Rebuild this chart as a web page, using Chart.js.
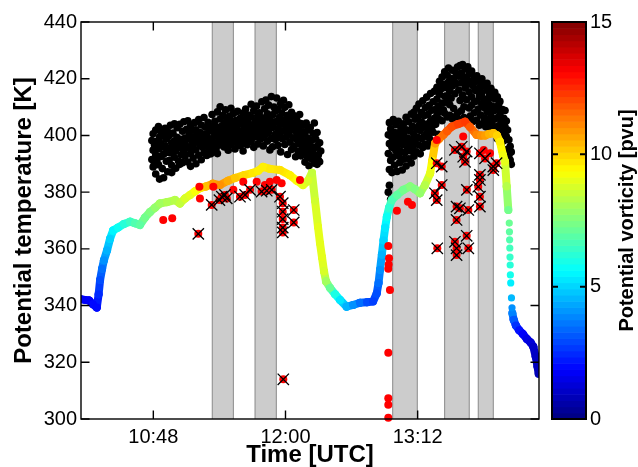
<!DOCTYPE html>
<html><head><meta charset="utf-8">
<style>html,body{margin:0;padding:0;background:#fff;overflow:hidden}#wrap{width:638px;height:467px;position:relative}</style>
<script src="https://cdn.jsdelivr.net/npm/chart.js@4.4.1/dist/chart.umd.min.js"></script>
</head><body><div id="wrap"><canvas id="c"></canvas></div>
<script>
// ---- axis / tick data (time in minutes of day, UTC) ----
const xMin = 608.6, xMax = 858.1;
const xTickValues = [648, 720, 792];
const xTickLabels = ['10:48', '12:00', '13:12'];
const yTickValues = [300, 320, 340, 360, 380, 400, 420, 440];
const pvTickValues = [0, 5, 10, 15];

// ---- shaded intervals ----
const bandStart = [680.1, 703.4, 778.4, 806.7, 825.0];
const bandEnd   = [691.6, 715.0, 791.8, 820.1, 833.2];

// ---- PV-coloured potential temperature trace ----
const traceTime = [608.6,610.8,613.0,615.1,617.2,618.2,619.0,620.1,621.1,622.8,624.4,626.1,628.8,632.0,635.3,638.0,640.7,643.4,646.2,648.9,651.6,655.5,659.8,662.5,665.3,668.0,670.7,673.4,676.7,680.5,684.3,688.7,692.5,697.4,702.3,705.0,707.8,711.6,717.0,722.4,726.2,729.5,732.3,734.4,736.1,737.7,738.8,739.9,741.0,742.1,744.3,747.0,749.7,753.3,756.8,760.6,764.4,767.7,769.7,770.7,771.5,772.5,773.4,774.3,775.2,776.4,777.9,780.8,784.2,787.9,790.6,793.3,796.0,798.8,799.9,801.5,803.7,806.0,808.0,810.5,814.0,817.8,820.5,824.1,826.5,828.7,830.8,833.2,835.2,836.8,838.5,839.6,840.5,841.4];
const traceTheta = [342.2,342.0,341.8,340.5,339.3,344,349,353,356,359.5,363.5,366.5,367.5,368.8,369.6,369.0,368.4,371,373,374.5,376,376.5,377.2,376,377.8,379,380.3,381.4,382,383,382.5,384,385,386,386.8,387.5,388.9,388.2,387.8,386,384,382.5,384,386.8,377,367.8,362,357,352,348.5,346.2,344,342,339.6,340.2,341,341.2,341.4,344.3,348,352.6,358,363,367.5,371.3,374.5,377.2,379,380.8,382,381,379.6,382.5,386.6,391,397.2,398.8,400.2,401.5,403.1,404,404.8,403,400.2,400,400,400.5,400.8,400,397.8,393,390.7,382,373.7];
const tracePV = [1.8,1.8,1.8,2.0,2.0,2.5,3.0,3.5,4.0,4.5,5.0,5.5,5.8,6.2,6.5,6.8,7.0,7.3,7.5,7.8,8.0,8.2,8.3,8.5,8.8,9.0,9.3,9.6,10.3,10.8,11.0,10.6,10.2,9.9,9.7,9.6,9.6,9.7,9.8,9.6,9.3,9.0,8.8,8.5,8.7,9.0,9.0,9.0,8.8,8.0,7.2,6.0,5.3,4.5,4.0,3.5,3.0,2.8,3.0,3.5,4.0,4.5,5.0,5.3,5.8,6.3,6.7,7.0,7.3,7.6,7.5,7.8,8.3,9.0,9.5,10.8,11.2,11.5,11.8,12.0,12.2,12.3,11.8,11.2,11.0,10.8,10.5,10.3,10.0,9.6,9.2,9.0,8.3,7.3];

// sparse descent samples
const descentTime  = [841.9,842.0,842.1,842.2,842.3,842.4,842.5,842.7,843.1,843.4];
const descentTheta = [369.1,366.0,363.2,360.3,357.1,354.3,350.8,348.0,342.7,339.2];
const descentPV    = [7.2,7.0,6.8,6.6,6.4,6.2,5.9,5.4,4.6,4.0];

// final tail
const tailTime  = [843.6,844.3,845.5,847.3,849.3,851.5,853.5,855.0,856.3,857.3,857.9];
const tailTheta = [337.3,335.0,333.0,331.3,330.0,328.2,327.0,325.5,322.0,318.5,316.0];
const tailPV    = [3.8,3.2,2.6,2.1,1.8,1.5,1.3,1.1,1.0,0.9,0.8];

// ---- black samples: [time, theta, theta, ...] ----
const blackCloudA = [
[647.2,391.5,398.2],[647.9,394.8,400.6,388.9],[648.6,396.7,390.2],[649.3,393.1,401.9,386.4],[650.1,397.9,391.8],
[650.8,395.2,403.1,389.7],[651.4,384.6,399.4],[652.2,392.6,397.1,401.2],[652.9,388.3,395.9],[653.6,399.8,393.4,385.1],
[654.4,402.5,396.3],[655.1,390.9,398.7,394.0],[655.8,387.2,401.4],[656.6,395.5,399.9,391.1],[657.3,403.6,393.8],
[658.0,397.4,389.5,386.9],[658.7,400.8,395.1],[659.5,392.3,398.0,404.1],[660.2,394.6,388.4],[660.9,399.3,402.7,396.2],
[661.7,391.0,397.5],[662.4,395.8,403.9,389.8],[663.1,398.6,393.2],[663.9,401.5,396.9,390.4],[664.6,394.4,404.8],
[665.3,399.1,392.7,397.3],[666.1,402.2,395.6],[666.8,390.6,398.9,405.2],[667.5,396.0,400.7],[668.3,393.6,403.4,389.1],
[669.0,398.1,395.3],[669.7,401.8,392.0,397.0],[670.5,404.5,399.5],[671.2,394.9,390.0,402.0],[671.9,397.7,400.3],
[672.7,393.0,405.6,398.5],[673.4,396.5,401.0],[674.1,391.4,399.2,403.7],[674.9,395.7,397.9],[675.6,400.4,393.9,406.3],
[676.3,398.3,402.9],[677.1,392.9,396.4,400.0],[677.8,404.6,399.0],[678.5,395.0,401.6,397.6],[679.3,403.3,393.5],
[680.0,398.8,407.4,396.1],[680.7,401.3,394.7],[681.5,399.7,405.0,397.2],[682.2,403.0,395.4],[682.9,400.2,408.3,393.6],
[683.7,397.8,402.4],[684.4,405.8,399.4,410.1],[685.1,396.6,403.2],[685.9,401.1,407.0,398.3],[686.6,404.2,395.9],
[687.3,399.9,402.8,409.0],[688.1,397.3,405.5],[688.8,400.9,403.7,394.8],[689.5,406.8,398.6],[690.3,402.1,396.8,409.6],
[691.0,404.9,400.5],[691.7,398.2,403.5,407.7],[692.5,401.7,395.2],[693.2,405.3,399.6,402.6],[693.9,397.1,408.5],
[694.7,403.9,400.1],[695.4,396.4,406.1,401.4],[696.1,404.0,398.9],[696.9,400.8,407.9,394.5],[697.6,402.9,397.4],
[698.3,405.7,399.8,409.3],[699.1,401.9,396.7],[699.8,404.4,407.2,398.4],[700.5,402.3,400.0],[701.3,406.5,397.9,411.0],
[702.0,403.6,399.3],[702.7,408.8,401.2,395.8],[703.5,405.1,402.0],[704.2,399.5,410.4,403.8],[704.9,406.9,397.0],
[705.7,402.7,408.0,400.6],[706.4,404.7,398.7],[707.1,411.9,401.5,406.2],[707.9,403.1,396.3],[708.6,409.4,405.4,400.1],
[709.3,412.5,402.6],[710.1,398.0,407.6,404.3],[710.8,401.0,410.7],[711.5,405.9,394.9,403.3],[712.3,413.7,399.0],
[713.0,407.3,402.8,396.0],[713.7,404.6,410.0],[714.5,400.4,408.6,398.6],[715.2,413.2,405.0],[715.9,402.4,396.5,409.2],
[716.7,406.4,400.2],[717.4,411.2,403.9,394.2],[718.1,398.9,407.7],[718.9,404.8,401.6,412.4],[719.6,396.8,409.9],
[720.3,402.9,405.6,399.4],[721.1,393.3,407.1],[721.8,400.7,403.5,410.8],[722.5,397.6,405.8],[723.3,402.1,395.0,408.2],
[724.0,399.2,404.1],[724.7,396.1,406.9,401.8],[725.5,392.5,403.0],[726.2,398.5,405.3,400.9],[726.9,394.3,402.5],
[727.7,397.0,407.4,399.9],[728.4,392.8,404.2],[729.1,395.6,401.3,398.2],[729.9,403.6,393.7],[730.6,397.3,390.6,400.5],
[731.3,404.4,395.3],[732.1,392.1,399.0,401.9],[732.8,396.6,389.3],[733.5,402.8,394.0],[734.3,391.7,398.3,396.0],
[735.0,400.7,393.9],[735.7,395.6,390.2,404.4],[736.5,398.7,392.4],[737.2,389.8,396.2,401.0],[737.9,393.2,391.3],
[738.6,397.4,390.7],[739.2,394.5]
];
const blackCloudB = [
[776.0,380.0,393.6,400.2],[776.6,382.4,397.1,404.5,388.0],[777.3,377.5,391.2,402.3],[778.0,395.8,399.4,386.9],[778.7,392.4,405.6,397.9],
[779.4,389.5,401.0],[780.1,394.7,398.6,403.8],[780.8,387.3,396.2],[781.5,400.9,392.9,405.0],[782.2,397.6,390.4],
[782.9,402.7,394.3,399.8],[783.6,387.8,396.8],[784.3,404.1,391.6,400.5],[785.0,398.2,393.9],[785.7,389.2,402.0,406.4],
[786.4,395.4,399.1],[787.1,391.8,404.8,397.3],[787.8,401.6,394.6],[788.5,407.5,398.4,390.3],[789.2,396.0,403.2],
[789.9,400.3,392.7,408.2],[790.6,405.7,397.8],[791.3,394.2,402.4,409.6],[792.0,399.3,406.3],[792.7,396.6,411.1,403.5],
[793.4,401.7,393.5],[794.1,408.1,398.9,404.7],[794.8,412.2,395.7],[795.5,402.9,406.9,399.6],[796.2,409.8,397.0],
[796.9,404.0,413.5,400.7],[797.6,407.4,396.3],[798.3,402.2,410.6,399.1],[799.0,414.8,405.2],[799.7,398.0,408.9,403.0],
[800.4,411.9,401.1],[801.1,406.0,415.6,397.5],[801.8,409.2,403.9],[802.5,412.8,407.0,417.0],[803.2,400.4,410.3],
[803.9,414.5,405.6,419.1],[804.6,408.4,416.3],[805.3,411.4,420.6,405.2],[806.0,418.0,409.0],[806.7,413.8,422.4,407.8],
[807.4,416.9,411.7],[808.1,421.2,406.5,414.0],[808.8,418.8,423.8],[809.5,410.8,415.6,407.1],[810.2,420.1,413.1],
[810.9,423.0,417.4,405.8],[811.6,409.5,419.6],[812.3,414.7,406.6],[813.0,421.8,418.3],[813.7,407.9,424.1],
[814.4,416.0,420.9,405.6],[815.1,412.3,424.6],[815.8,418.6,408.7,422.0],[816.5,414.2,425.0],[817.2,419.9,410.1,406.3],
[817.9,423.4,416.7],[818.6,412.6,420.5,405.9],[819.3,418.1,424.2],[820.0,409.7,415.3,421.6],[820.7,406.8,419.0],
[821.4,413.6,422.7,410.6],[822.1,417.5,404.9],[822.8,420.4,411.9,408.0],[823.5,415.8,418.9],[824.2,405.4,412.1,421.0],
[824.9,416.4,409.3],[825.6,419.5,413.9,403.6],[826.3,407.2,417.2],[827.0,411.0,415.1,420.0],[827.7,404.3,413.0],
[828.4,417.8,409.8,406.1],[829.1,412.5,403.1],[829.8,415.9,408.3,418.4],[830.5,405.0,411.3],[831.2,414.1,402.4,408.9],
[831.9,416.6,406.7],[832.6,410.4,404.0,413.4],[833.3,400.9,408.6],[834.0,412.9,405.8,415.2],[834.7,402.1,409.4],
[835.4,406.2,413.6,398.8],[836.1,410.9,403.4],[836.8,400.0,407.5,412.0],[837.5,396.5,404.6],[838.2,409.1,401.4,394.4],
[838.9,406.0,398.1],[839.6,403.0,392.6,408.8],[840.3,399.7,405.1],[841.0,395.1,390.4,401.9],[841.7,398.5,393.0],
[842.4,396.2,391.3],[843.0,394.2,389.8]
];

// ---- bright red samples (no cross) ----
const redTime  = [653.4,658.3,673.1,673.4,680.7,691.6,697.0,704.3,708.8,711.5,715.2,717.9,727.9,776.0,776.4,776.2,776.0,776.9,776.0,776.0,776.0,776.0,780.7,786.7,788.9,802.4,816.8,831.4,828.0];
const redTheta = [370.2,370.8,381.9,377.8,381.9,380.8,383.7,383.7,382.5,383.7,384.3,383.1,384.3,361.0,356.7,354.5,353.0,345.5,323.4,307.3,305.0,300.4,373.4,376.6,375.5,398.4,399.6,393.7,394.9];

// ---- crossed samples (red with black cross) ----
const crossTime  = [672.5,679.8,684.0,685.3,687.0,688.0,695.2,698.0,700.7,707.0,709.8,712.5,717.0,718.5,718.5,718.5,718.5,718.5,724.5,724.5,718.8,
                    802.4,805.1,801.4,805.1,802.4,812.3,816.0,818.7,816.8,817.8,825.9,828.7,833.2,835.0,833.2,825.9,825.9,818.8,825.0,825.9,825.9,815.0,813.2,819.6,813.2,802.7,812.3,813.2,813.2,818.7,819.6];
const crossTheta = [365.3,375.5,377.2,378.4,379.0,377.8,378.4,379.0,380.8,380.2,380.5,380.8,378.4,376.1,373.1,370.5,367.5,365.8,373.7,369.3,314.0,
                    390.2,389.0,379.6,382.5,377.2,394.9,396.0,394.3,392.5,390.7,393.7,391.9,389.0,390.2,387.8,386.1,384.3,380.8,381.9,378.4,374.9,374.3,374.9,373.7,370.2,360.2,362.5,360.2,357.8,364.6,360.2];

// ---------------------------------------------------------------
function clamp01(v){ return Math.max(0, Math.min(1, v)); }
function jetColor(pv){
  const v = clamp01(pv / 15);
  const r = clamp01(1.5 - Math.abs(4 * v - 3));
  const g = clamp01(1.5 - Math.abs(4 * v - 2));
  const b = clamp01(1.5 - Math.abs(4 * v - 1));
  return 'rgb(' + Math.round(r*255) + ',' + Math.round(g*255) + ',' + Math.round(b*255) + ')';
}
function pts(ts, ys){ return ts.map((t, i) => ({x: t, y: ys[i]})); }
function cloudPts(rows){ const out = []; rows.forEach(r => { for (let i = 1; i < r.length; i++) out.push({x: r[0], y: r[i]}); }); return out; }
function noPad(s){ s.paddingTop = 0; s.paddingBottom = 0; s.paddingLeft = 0; s.paddingRight = 0; }

const FONT = "'Liberation Sans', Arial, Helvetica, sans-serif";
Chart.defaults.font.family = FONT;
Chart.defaults.color = '#000';

const decor = {
  id: 'decor',
  beforeDatasetsDraw(chart) {
    const {ctx, chartArea: a, scales: {x}} = chart;
    ctx.save();
    for (let i = 0; i < bandStart.length; i++) {
      const x0 = x.getPixelForValue(bandStart[i]), x1 = x.getPixelForValue(bandEnd[i]);
      ctx.fillStyle = '#cccccc';
      ctx.fillRect(x0, a.top, x1 - x0, a.bottom - a.top);
      ctx.strokeStyle = '#8a8a8a'; ctx.lineWidth = 1;
      ctx.beginPath();
      ctx.moveTo(x0, a.top); ctx.lineTo(x0, a.bottom);
      ctx.moveTo(x1, a.top); ctx.lineTo(x1, a.bottom);
      ctx.stroke();
    }
    ctx.restore();
  },
  afterDatasetsDraw(chart) {
    const {ctx, chartArea: a, scales: {x, y, pv}} = chart;
    ctx.save();
    ctx.strokeStyle = '#000'; ctx.lineWidth = 1.4;
    ctx.strokeRect(a.left, a.top, a.right - a.left, a.bottom - a.top);
    const tl = 8.5;
    ctx.beginPath();
    yTickValues.forEach(v => {
      const p = y.getPixelForValue(v);
      ctx.moveTo(a.left, p); ctx.lineTo(a.left + tl, p);
      ctx.moveTo(a.right, p); ctx.lineTo(a.right - tl, p);
    });
    xTickValues.forEach(v => {
      const p = x.getPixelForValue(v);
      ctx.moveTo(p, a.bottom); ctx.lineTo(p, a.bottom - tl);
      ctx.moveTo(p, a.top); ctx.lineTo(p, a.top + tl);
    });
    ctx.stroke();
    // colour bar
    const cbL = a.right + 13, cbW = 34;
    const levels = 64;
    for (let i = 0; i < levels; i++) {
      const v0 = 15 * i / levels, v1 = 15 * (i + 1) / levels;
      const y0 = pv.getPixelForValue(v0), y1 = pv.getPixelForValue(v1);
      ctx.fillStyle = jetColor((v0 + v1) / 2);
      ctx.fillRect(cbL, y1, cbW, y0 - y1 + 0.6);
    }
    const cbT = pv.getPixelForValue(15), cbB = pv.getPixelForValue(0);
    ctx.strokeStyle = '#000'; ctx.lineWidth = 2;
    ctx.strokeRect(cbL, cbT, cbW, cbB - cbT);
    ctx.beginPath();
    pvTickValues.forEach(v => {
      const p = pv.getPixelForValue(v);
      ctx.moveTo(cbL, p); ctx.lineTo(cbL + 6, p);
      ctx.moveTo(cbL + cbW, p); ctx.lineTo(cbL + cbW - 6, p);
    });
    ctx.stroke();
    ctx.translate(627, (cbT + cbB) / 2);
    ctx.rotate(-Math.PI / 2);
    ctx.font = 'bold 20px ' + FONT;
    ctx.fillStyle = '#000';
    ctx.textAlign = 'center'; ctx.textBaseline = 'middle';
    ctx.fillText('Potential vorticity [pvu]', 0, 0);
    ctx.restore();
  }
};

new Chart(document.getElementById('c'), {
  type: 'line',
  data: {
    datasets: [
      { label: 'crossed', data: pts(crossTime, crossTheta), showLine: false, pointStyle: 'crossRot',
        pointRadius: 8, pointBorderColor: '#000', pointBorderWidth: 1.3, pointBackgroundColor: '#000', order: 0, clip: false },
      { label: 'crossed-red', data: pts(crossTime, crossTheta), showLine: false, pointRadius: 4,
        pointBackgroundColor: '#ff0000', pointBorderWidth: 0, order: 1, clip: false },
      { label: 'red', data: pts(redTime, redTheta), showLine: false, pointRadius: 4,
        pointBackgroundColor: '#ff0000', pointBorderWidth: 0, order: 1, clip: false },
      { label: 'trace', data: pts(traceTime, traceTheta), showLine: true, borderWidth: 8,
        borderCapStyle: 'round', borderJoinStyle: 'round',
        segment: { borderColor: c => jetColor((tracePV[c.p0DataIndex] + tracePV[c.p1DataIndex]) / 2) },
        pointRadius: 4, pointBackgroundColor: tracePV.map(jetColor), pointBorderWidth: 0, order: 2 },
      { label: 'descent', data: pts(descentTime, descentTheta), showLine: false,
        pointRadius: 3.6, pointBackgroundColor: descentPV.map(jetColor), pointBorderWidth: 0, order: 2 },
      { label: 'tail', data: pts(tailTime, tailTheta), showLine: true, borderWidth: 8,
        borderCapStyle: 'round', borderJoinStyle: 'round',
        segment: { borderColor: c => jetColor((tailPV[c.p0DataIndex] + tailPV[c.p1DataIndex]) / 2) },
        pointRadius: 4, pointBackgroundColor: tailPV.map(jetColor), pointBorderWidth: 0, order: 2 },
      { label: 'blackA', data: cloudPts(blackCloudA), showLine: false, pointRadius: 3.8,
        pointBackgroundColor: '#000', pointBorderWidth: 0, order: 4 },
      { label: 'blackB', data: cloudPts(blackCloudB), showLine: false, pointRadius: 3.8,
        pointBackgroundColor: '#000', pointBorderWidth: 0, order: 4 }
    ]
  },
  options: {
    responsive: true, maintainAspectRatio: false, animation: false, devicePixelRatio: 1,
    layout: { padding: { top: 22, right: 0, bottom: 0, left: 0 }, autoPadding: false },
    plugins: { legend: { display: false }, tooltip: { enabled: false } },
    events: [],
    scales: {
      x: {
        type: 'linear', position: 'bottom', min: xMin, max: xMax,
        afterBuildTicks: s => { s.ticks = xTickValues.map(v => ({value: v})); },
        afterFit: s => { s.height = 48; noPad(s); },
        ticks: { font: { size: 20 }, color: '#000', padding: 6, maxRotation: 0,
                 callback: v => xTickLabels[xTickValues.indexOf(v)] },
        grid: { display: false, drawTicks: false }, border: { display: false },
        title: { display: true, text: 'Time [UTC]', color: '#000',
                 font: { size: 24, weight: 'bold', lineHeight: 1 }, padding: { top: 0, bottom: 0 } }
      },
      y: {
        type: 'linear', position: 'left', min: 300, max: 440,
        afterBuildTicks: s => { s.ticks = yTickValues.map(v => ({value: v})); },
        afterFit: s => { s.width = 81; noPad(s); },
        ticks: { font: { size: 20 }, color: '#000', padding: 4 },
        grid: { display: false, drawTicks: false }, border: { display: false },
        title: { display: true, text: 'Potential temperature [K]', color: '#000',
                 font: { size: 24, weight: 'bold', lineHeight: 1 }, padding: { top: 12.5, bottom: 0 } }
      },
      pv: {
        type: 'linear', position: 'right', min: 0, max: 15,
        afterBuildTicks: s => { s.ticks = pvTickValues.map(v => ({value: v})); },
        afterFit: s => { s.width = 99; noPad(s); },
        ticks: { font: { size: 20 }, color: '#000', padding: 51 },
        grid: { display: false, drawTicks: false }, border: { display: false }
      }
    }
  },
  plugins: [decor]
});
</script>
</body></html>
